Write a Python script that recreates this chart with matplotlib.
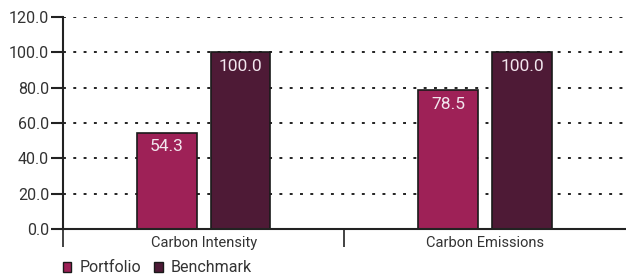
import matplotlib.pyplot as plt
from matplotlib.patches import Patch

categories = ["Carbon Intensity", "Carbon Emissions"]
portfolio = [54.3, 78.5]
benchmark = [100.0, 100.0]
y_ticks = [0, 20, 40, 60, 80, 100, 120]

portfolio_color = "#9E2157"
benchmark_color = "#4E1A36"

plt.rcParams["font.family"] = ["Roboto", "DejaVu Sans"]

fig = plt.figure(figsize=(6.26, 2.8), dpi=100)
ax = fig.add_axes([0.1006, 0.182, 0.899, 0.757])

x = list(range(len(categories)))
width = 0.213
offset = 0.131

bars_p = ax.bar([i - offset for i in x], portfolio, width=width,
                color=portfolio_color, edgecolor="#1a1a1a", linewidth=1.2, zorder=3)
bars_b = ax.bar([i + offset for i in x], benchmark, width=width,
                color=benchmark_color, edgecolor="#1a1a1a", linewidth=1.2, zorder=3)

# value labels inside top of bars
for bars, vals in ((bars_p, portfolio), (bars_b, benchmark)):
    for b, v in zip(bars, vals):
        ax.text(b.get_x() + b.get_width() / 2, v - 3.5, f"{v:.1f}",
                ha="center", va="top", color="#f2e6ee", fontsize=12.5, zorder=4)

ax.set_xlim(-0.5, len(categories) - 0.5)
ax.set_ylim(0, 120)
ax.set_yticks(y_ticks)
ax.set_yticklabels([f"{t:.1f}" for t in y_ticks], fontsize=11.5, color="#333333")
ax.yaxis.grid(True, linestyle=(0, (1.5, 3.8)), color="#222222", linewidth=1.4, zorder=0)
ax.tick_params(axis="y", length=9, width=1.5, color="#222222", pad=1)

ax.set_xticks(x)
ax.set_xticklabels(categories, fontsize=10.5, color="#333333")
ax.set_xticks([-0.5, 0.5], minor=True)
ax.tick_params(axis="x", which="major", length=0, pad=5)
ax.tick_params(axis="x", which="minor", length=13, width=1.2, color="#222222")

for side in ("top", "right"):
    ax.spines[side].set_visible(False)
ax.spines["left"].set_linewidth(1.5)
ax.spines["left"].set_color("#222222")
ax.spines["bottom"].set_linewidth(1.5)
ax.spines["bottom"].set_color("#222222")
ax.spines["bottom"].set_zorder(5)

handles = [
    Patch(facecolor=portfolio_color, edgecolor="#1a1a1a", label="Portfolio"),
    Patch(facecolor=benchmark_color, edgecolor="#1a1a1a", label="Benchmark"),
]
fig.legend(handles=handles, loc="lower left", bbox_to_anchor=(0.077, -0.035),
           ncol=2, frameon=False, fontsize=11.5, handlelength=0.55, handleheight=0.55,
           handletextpad=0.5, columnspacing=0.8, labelcolor="#333333")

fig.savefig("out.png", dpi=100)
